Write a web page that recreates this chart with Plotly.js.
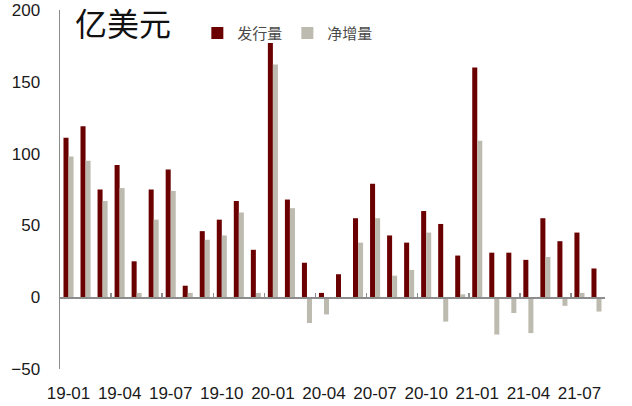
<!DOCTYPE html>
<html>
<head>
<meta charset="utf-8">
<script src="https://cdn.plot.ly/plotly-3.0.1.min.js"></script>
<style>
  html, body { margin: 0; padding: 0; background: #fff; }
  #chart { width: 632px; height: 406px; }
</style>
</head>
<body>
<div id="chart"></div>
<script>
// 月份 (19-01 ~ 21-08)
const months = [
  "19-01","19-02","19-03","19-04","19-05","19-06","19-07","19-08","19-09","19-10","19-11","19-12",
  "20-01","20-02","20-03","20-04","20-05","20-06","20-07","20-08","20-09","20-10","20-11","20-12",
  "21-01","21-02","21-03","21-04","21-05","21-06","21-07","21-08"
];

// 发行量 (亿美元)
const issuance = [
  111, 119, 75, 92, 25, 75, 89, 8, 46, 54, 67, 33,
  177, 68, 24, 3, 16, 55, 79, 43, 38, 60, 51, 29,
  160, 31, 31, 26, 55, 39, 45, 20
];

// 净增量 (亿美元)
const netIncrease = [
  98, 95, 67, 76, 3, 54, 74, 3, 40, 43, 59, 3,
  162, 62, -18, -12, 0, 38, 55, 15, 19, 45, -17, 2,
  109, -26, -11, -25, 28, -6, 3, -10
];

// x轴标签 (每三个月)
const tickLabels = ["19-01","19-04","19-07","19-10","20-01","20-04","20-07","20-10","21-01","21-04","21-07"];

const yRange = [-50, 200];
const xRange = [-0.5, months.length - 0.5];

// 零线上的小刻度 (每三个月的分界处)
const boundaryTicks = [];
for (let i = 2.5; i < months.length - 0.5; i += 3) boundaryTicks.push(i);

const traces = [
  {
    type: "bar",
    name: "发行量",
    x: months,
    y: issuance,
    marker: { color: "#6B0000" },
    hoverinfo: "skip"
  },
  {
    type: "bar",
    name: "净增量",
    x: months,
    y: netIncrease,
    marker: { color: "#BDBAB0" },
    hoverinfo: "skip"
  }
];

const layout = {
  width: 632,
  height: 406,
  margin: { l: 60, r: 27, t: 10, b: 37 },
  paper_bgcolor: "#ffffff",
  plot_bgcolor: "#ffffff",
  font: { family: "Liberation Sans, Arial, 'Noto Sans CJK SC', sans-serif", size: 17, color: "#1a1a1a" },
  barmode: "group",
  bargap: 0.41,
  bargroupgap: 0,
  title: {
    text: "亿美元",
    font: { family: "'Noto Sans CJK SC', sans-serif", size: 32, color: "#111" },
    xref: "container",
    yref: "container",
    x: 75 / 632,
    xanchor: "left",
    y: 1 - 25 / 406,
    yanchor: "middle"
  },
  showlegend: true,
  legend: {
    orientation: "h",
    x: 0.252,
    xanchor: "left",
    y: 0.935,
    yanchor: "middle",
    bgcolor: "rgba(0,0,0,0)",
    font: { family: "'Noto Sans CJK SC', sans-serif", size: 15, color: "#4a4a4a" },
    itemwidth: 30,
    tracegroupgap: 0
  },
  xaxis: {
    type: "category",
    categoryorder: "array",
    categoryarray: months,
    range: xRange,
    tickvals: tickLabels,
    ticktext: tickLabels,
    ticks: "",
    showline: false,
    showgrid: false,
    zeroline: false,
    ticklabelstandoff: 12,
    tickfont: { size: 17, color: "#1a1a1a" }
  },
  xaxis2: {
    overlaying: "x",
    anchor: "free",
    position: (0 - yRange[0]) / (yRange[1] - yRange[0]),
    range: xRange,
    type: "linear",
    showline: true,
    linecolor: "#8c8c8c",
    linewidth: 1.5,
    showgrid: false,
    zeroline: false,
    tickvals: boundaryTicks,
    ticks: "inside",
    ticklen: 4,
    tickwidth: 1.5,
    tickcolor: "#8c8c8c",
    showticklabels: false
  },
  yaxis: {
    range: yRange,
    tickvals: [-50, 0, 50, 100, 150, 200],
    ticks: "",
    showgrid: false,
    zeroline: false,
    showline: true,
    linecolor: "#8c8c8c",
    linewidth: 1.5,
    ticklabelstandoff: 15,
    tickfont: { size: 17, color: "#1a1a1a" }
  }
};

// 隐形轨迹, 让 xaxis2 显示
traces.push({
  type: "scatter",
  x: xRange,
  y: [0, 0],
  xaxis: "x2",
  yaxis: "y",
  mode: "lines",
  line: { width: 0 },
  showlegend: false,
  hoverinfo: "skip"
});

Plotly.newPlot("chart", traces, layout, { displayModeBar: false, staticPlot: true });
</script>
</body>
</html>
